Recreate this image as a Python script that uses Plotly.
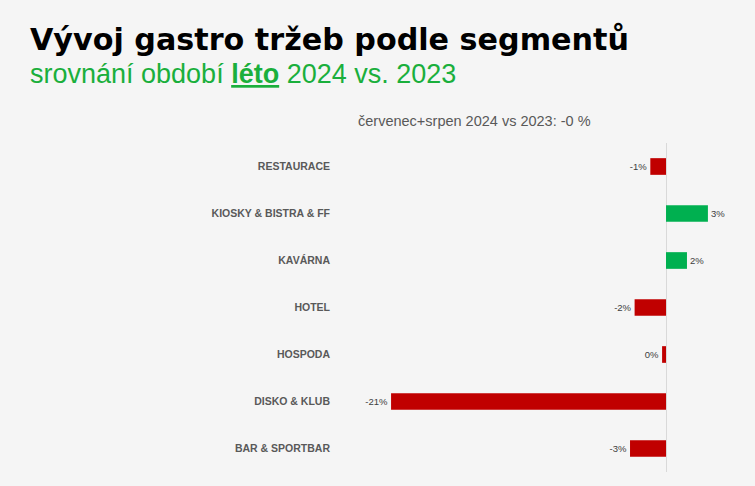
import plotly.graph_objects as go

categories = ["RESTAURACE", "KIOSKY & BISTRA & FF", "KAVÁRNA", "HOTEL",
              "HOSPODA", "DISKO & KLUB", "BAR & SPORTBAR"]
values = [-1.2, 3.2, 1.6, -2.4, -0.3, -21.0, -2.75]
labels = ["-1%", "3%", "2%", "-2%", "0%", "-21%", "-3%"]

RED = "#c00000"
GREEN = "#00b050"
colors = [GREEN if v > 0 else RED for v in values]

fig = go.Figure()
fig.add_trace(go.Bar(
    x=values, y=categories, orientation="h",
    marker=dict(color=colors, line=dict(width=0)),
    text=labels, textposition="outside",
    textfont=dict(family="Liberation Sans, Arial", size=9.5, color="#404040"),
    cliponaxis=False, hoverinfo="skip",
))

W, H = 755, 486
L, R, T, B = 340, 15, 143, 14
PW, PH = W - L - R, H - T - B


def px(xp):
    return (xp - L) / PW


def py(yp):
    return 1 + (T - yp) / PH


fig.update_layout(
    width=W, height=H,
    margin=dict(l=L, r=R, t=T, b=B),
    paper_bgcolor="#f5f5f5", plot_bgcolor="#f5f5f5",
    showlegend=False,
    bargap=0.645,
    xaxis=dict(range=[-24.9, 5.65], showgrid=False, showticklabels=False,
               zeroline=True, zerolinecolor="#d9d9d9", zerolinewidth=1,
               fixedrange=True),
    yaxis=dict(autorange="reversed", showgrid=False, ticks="",
               tickfont=dict(family="Liberation Sans, Arial", size=10.5, color="#595959",
                             weight="bold"),
               ticklabelstandoff=9, fixedrange=True),
    annotations=[
        dict(text="<b>Vývoj gastro tržeb podle segmentů</b>",
             xref="paper", yref="paper", x=px(28), y=py(59),
             xanchor="left", yanchor="bottom", showarrow=False,
             font=dict(family="DejaVu Sans", size=30.2, color="#000000", weight="bold")),
        dict(text="srovnání období <b><u>léto</u></b> 2024 vs. 2023",
             xref="paper", yref="paper", x=px(28), y=py(91),
             xanchor="left", yanchor="bottom", showarrow=False,
             font=dict(family="Liberation Sans, Arial", size=27, color="#1aaf3c")),
        dict(text="červenec+srpen 2024 vs 2023: -0 %",
             xref="paper", yref="paper", x=px(474.5), y=py(131),
             xanchor="center", yanchor="bottom", showarrow=False,
             font=dict(family="Liberation Sans, Arial", size=14.5, color="#595959")),
    ],
)

fig.write_html(
    "out.html",
    config={"displayModeBar": False},
    post_script="document.body.style.margin='0';document.body.style.background='#f5f5f5';",
)
